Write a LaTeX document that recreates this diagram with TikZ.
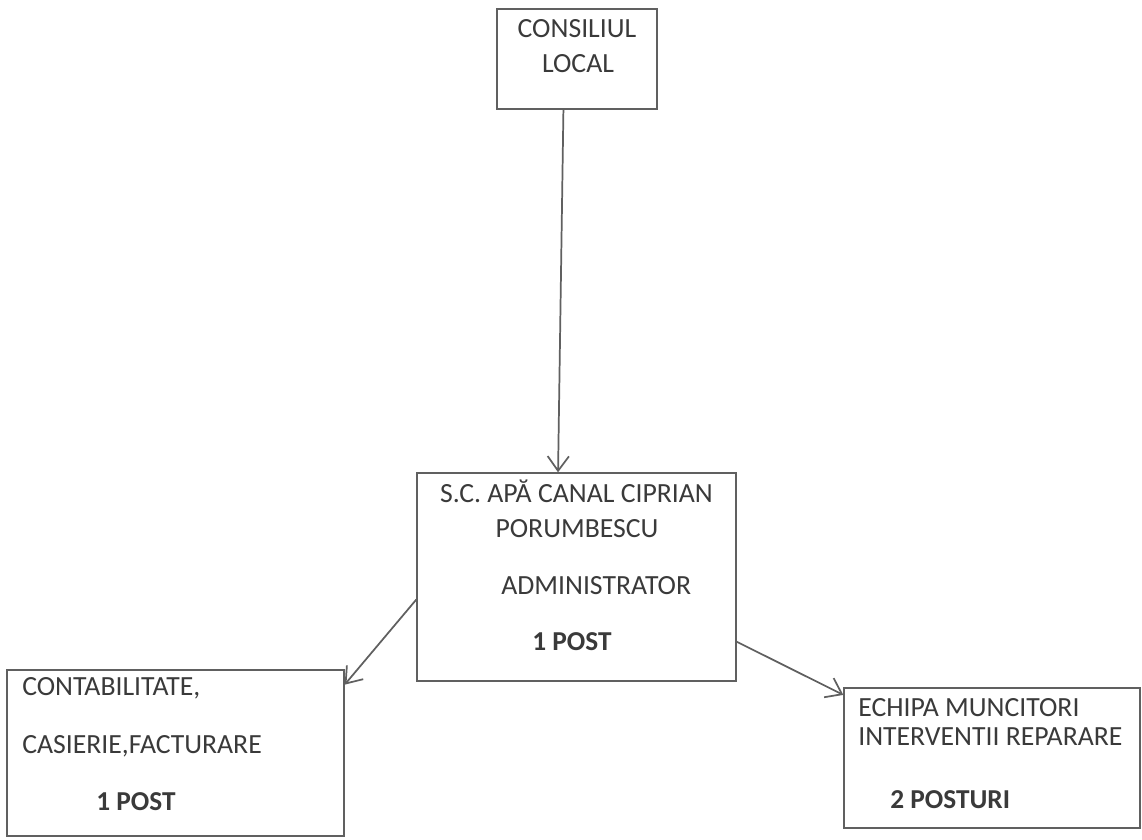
\documentclass[tikz,border=0pt]{standalone}
\usepackage{fontspec}
\setmainfont{Carlito}
\usetikzlibrary{arrows.meta}
\definecolor{linegray}{HTML}{606060}
\definecolor{textgray}{HTML}{3A3A3A}

\begin{document}
\begin{tikzpicture}[x=0.75pt,y=-0.75pt,
    box/.style={draw=linegray, line width=1pt, inner sep=0pt},
    txt/.style={text=textgray, inner sep=0pt, font=\fontsize{20.8}{24}\selectfont},
    txtb/.style={txt, font=\fontsize{20.5}{24}\selectfont\bfseries},
    link/.style={draw=linegray, line width=1.3pt, -{Straight Barb[length=11pt,width=16pt]}}]
    \useasboundingbox[fill=white] (0,0) rectangle (1142,839);
            \node[box, minimum width=120pt, minimum height=75pt] (consiliu) at (577,59) {};
                \node[txt, anchor=base] (c1) at (577,37) {CONSILIUL};
                \node[txt, anchor=base] (c2) at (578,72) {LOCAL};
            \node[box, minimum width=239.25pt, minimum height=156pt] (apa) at (576.5,577) {};
                \node[txt, anchor=base] (a1) at (576.5,502) {S.C. APĂ CANAL CIPRIAN};
                \node[txt, anchor=base] (a2) at (577,537) {PORUMBESCU};
                \node[txt, anchor=base west] (a3) at (501,594) {ADMINISTRATOR};
                \node[txtb, anchor=base west] (a4) at (532,650) {1 POST};
            \node[box, minimum width=252.75pt, minimum height=124.5pt] (contab) at (175.5,753) {};
                \node[txt, anchor=base west] (b1) at (22,695) {CONTABILITATE,};
                \node[txt, anchor=base west] (b2) at (22,753) {CASIERIE,FACTURARE};
                \node[txtb, anchor=base west] (b3) at (96,810) {1 POST};
            \node[box, minimum width=222pt, minimum height=105pt] (echipa) at (992,758) {};
                \node[txt, anchor=base west] (e1) at (858,716) {ECHIPA MUNCITORI};
                \node[txt, anchor=base west] (e2) at (858,745) {INTERVENTII REPARARE};
                \node[txtb, anchor=base west] (e3) at (890,808) {2 POSTURI};
            \draw[link] (consiliu.255) -- (apa.100);
            \draw[link] (apa.188) -- (contab.22);
            \draw[link] (apa.338) -- (echipa.157);
        \end{tikzpicture}
\end{document}
